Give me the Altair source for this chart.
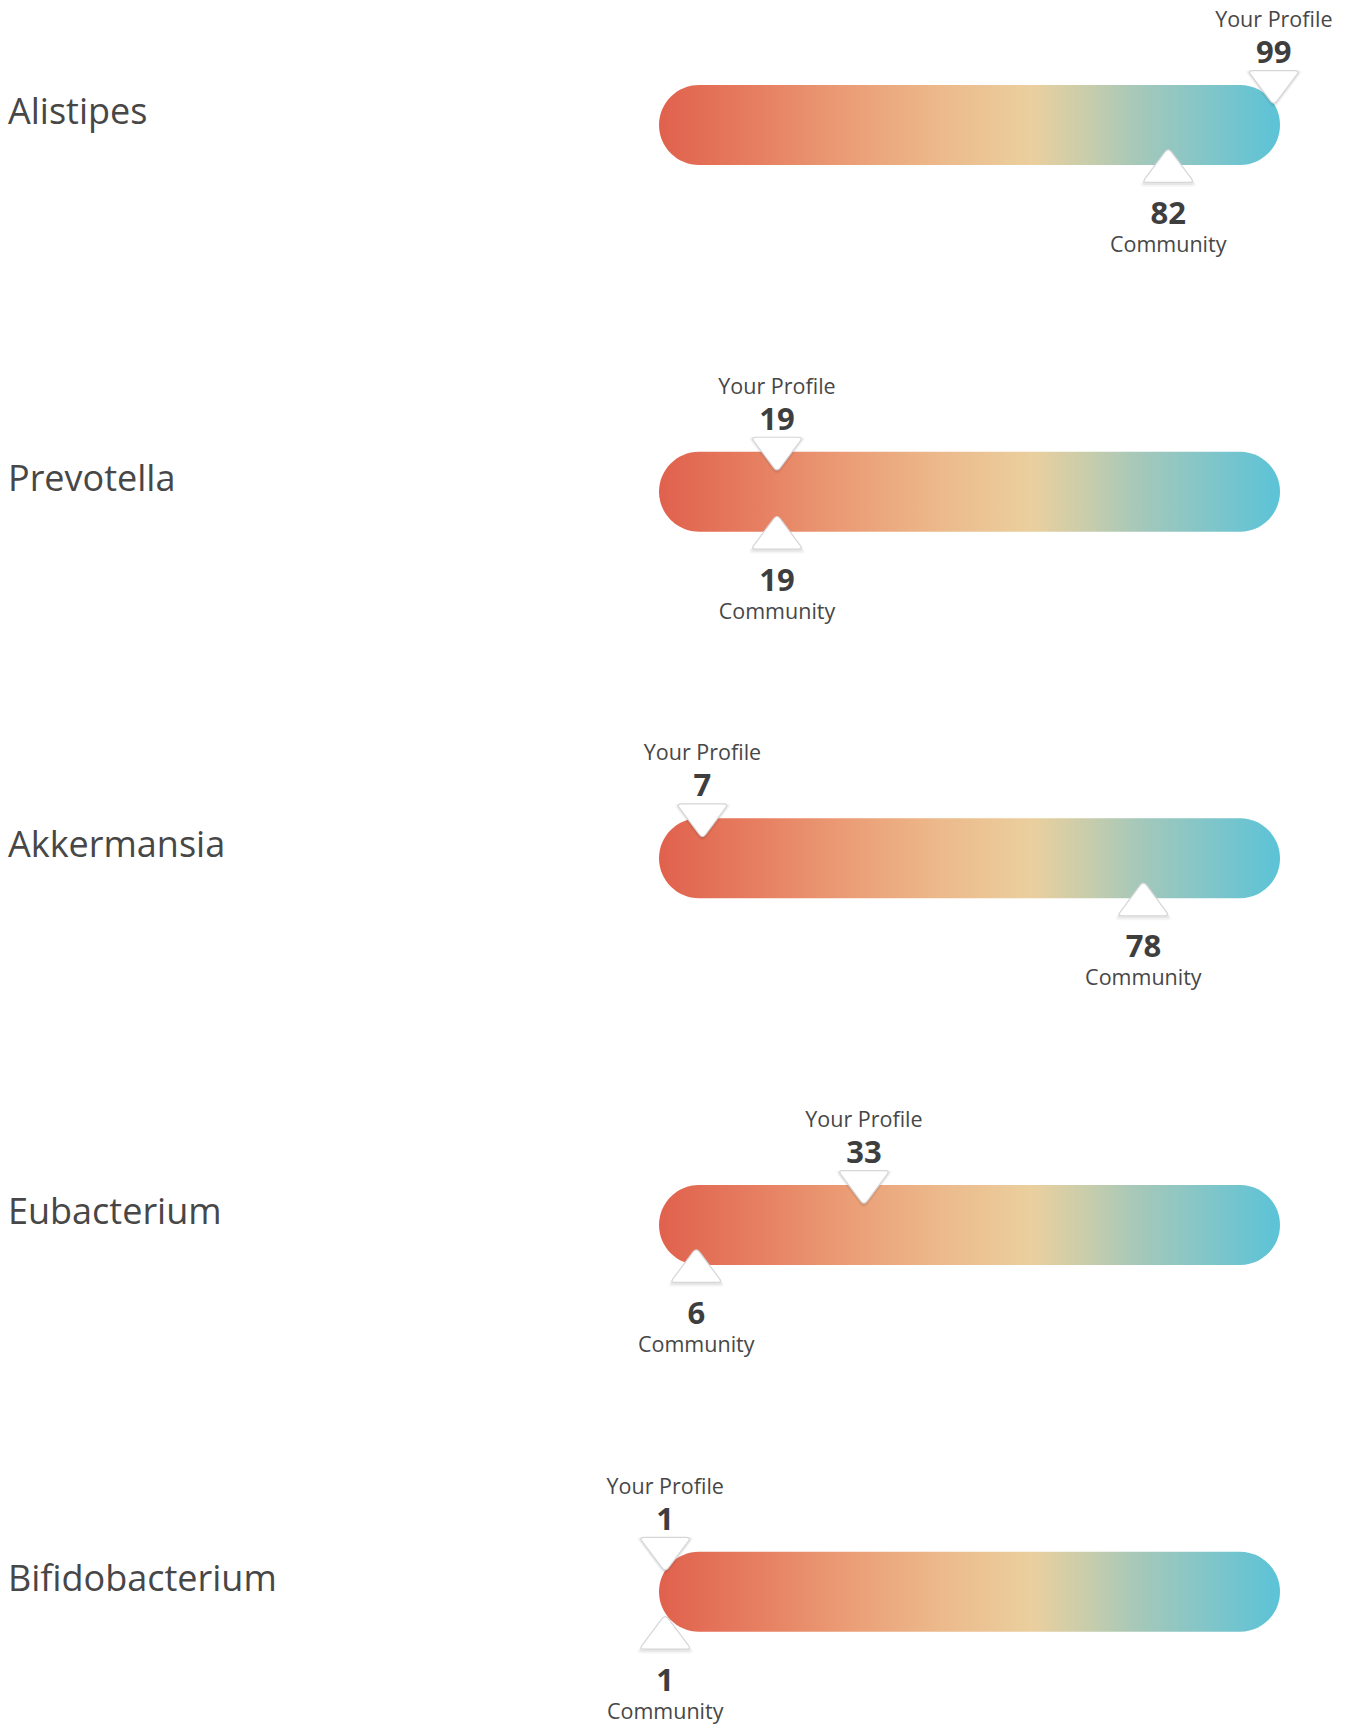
import altair as alt
import pandas as pd

# ---- data ----
taxa = ["Alistipes", "Prevotella", "Akkermansia", "Eubacterium", "Bifidobacterium"]
profile_values = [99, 19, 7, 33, 1]
community_values = [82, 19, 78, 6, 1]
rows = [0, 1, 2, 3, 4]
bar_start = [0, 0, 0, 0, 0]
bar_end = [100, 100, 100, 100, 100]

df = pd.DataFrame({
    "row": rows,
    "taxon": taxa,
    "profile": profile_values,
    "community": community_values,
    "start": bar_start,
    "end": bar_end,
})
df["profile_txt"] = df["profile"].astype(str)
df["community_txt"] = df["community"].astype(str)

FONT = "Open Sans"
TXT = "#474747"
NUM = "#3e3e3e"

xs = alt.Scale(domain=[0, 100], range=[659, 1280], padding=0)
ys = alt.Scale(domain=[0, 4], range=[125, 1591.7], padding=0)

base = alt.Chart(df)

grad = alt.Gradient(
    gradient="linear",
    x1=0, x2=1, y1=0, y2=0,
    stops=[
        alt.GradientStop(color="#e0614d", offset=0),
        alt.GradientStop(color="#e67d60", offset=0.15),
        alt.GradientStop(color="#eba078", offset=0.32),
        alt.GradientStop(color="#ecb98b", offset=0.45),
        alt.GradientStop(color="#ebcf9e", offset=0.60),
        alt.GradientStop(color="#c8cdab", offset=0.69),
        alt.GradientStop(color="#a6c8b9", offset=0.77),
        alt.GradientStop(color="#7cc5cb", offset=0.90),
        alt.GradientStop(color="#5bc3d7", offset=1),
    ],
)

bars = base.mark_bar(height=80, cornerRadius=40, color=grad).encode(
    x=alt.X("start:Q", scale=xs, axis=None),
    x2="end:Q",
    y=alt.Y("row:Q", scale=ys, axis=None),
)

labels = base.mark_text(
    align="left", baseline="alphabetic", font=FONT, fontSize=36,
    color=TXT, dy=-1,
).encode(
    x=alt.value(8),
    y=alt.Y("row:Q", scale=ys, axis=None),
    text="taxon:N",
)

TRI_DOWN = ("M -0.8,-0.67 L 0.8,-0.67 Q 1,-0.67 0.9,-0.536 L 0.13,0.496 "
            "Q 0,0.67 -0.13,0.496 L -0.9,-0.536 Q -1,-0.67 -0.8,-0.67 Z")
TRI_UP = ("M -0.8,0.67 L 0.8,0.67 Q 1,0.67 0.9,0.536 L 0.13,-0.496 "
          "Q 0,-0.67 -0.13,-0.496 L -0.9,0.536 Q -1,0.67 -0.8,0.67 Z")

def marker(field, shape, yoff):
    enc = dict(
        x=alt.X(f"{field}:Q", scale=xs, axis=None),
        y=alt.Y("row:Q", scale=ys, axis=None),
    )
    shadow1 = base.mark_point(
        shape=shape, size=3500, filled=True, color="#000000", opacity=0.04,
        yOffset=yoff + 2, strokeWidth=0,
    ).encode(**enc)
    shadow2 = base.mark_point(
        shape=shape, size=3050, filled=True, color="#000000", opacity=0.06,
        yOffset=yoff + 1.5, strokeWidth=0,
    ).encode(**enc)
    tri = base.mark_point(
        shape=shape, size=2704, filled=True, fill="#ffffff", opacity=1,
        stroke="#d6d6da", strokeWidth=1.2, yOffset=yoff,
    ).encode(**enc)
    return shadow1 + shadow2 + tri

top_marker = marker("profile", TRI_DOWN, -37)
bottom_marker = marker("community", TRI_UP, 40)

def text_layer(field, text, dy, size, weight, color):
    enc = dict(
        x=alt.X(f"{field}:Q", scale=xs, axis=None),
        y=alt.Y("row:Q", scale=ys, axis=None),
    )
    m = base.mark_text(
        align="center", baseline="alphabetic", font=FONT, fontSize=size,
        fontWeight=weight, color=color, dy=dy,
    )
    if text.endswith(":N"):
        return m.encode(text=text, **enc)
    return m.encode(text=alt.value(text), **enc)

your_profile = text_layer("profile", "Your Profile", -98, 21.5, "normal", TXT)
profile_num = text_layer("profile", "profile_txt:N", -62, 31, "bold", NUM)
community_num = text_layer("community", "community_txt:N", 99, 31, "bold", NUM)
community_lbl = text_layer("community", "Community", 127, 21.5, "normal", TXT)

chart = alt.layer(
    bars, labels, top_marker, bottom_marker,
    your_profile, profile_num, community_num, community_lbl,
).properties(
    width=1346, height=1724,
    autosize=alt.AutoSizeParams(type="none"),
    padding=0,
    background="#ffffff",
).configure_view(stroke=None)

chart.save("out.html", embed_options={"renderer": "svg", "actions": False})
